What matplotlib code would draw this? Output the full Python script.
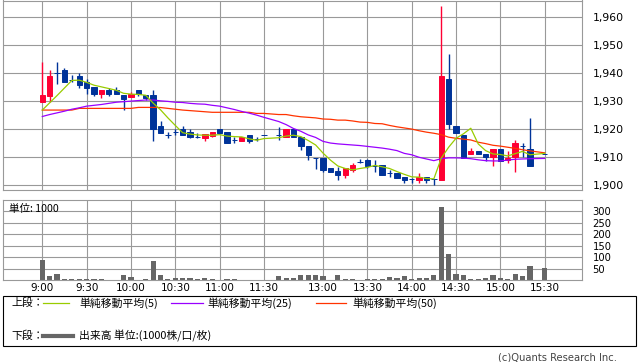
import matplotlib
matplotlib.use("Agg")
import matplotlib.pyplot as plt
from matplotlib.lines import Line2D
from matplotlib.patches import Rectangle
from matplotlib.ticker import FuncFormatter
import pandas as pd

plt.rcParams['font.family'] = ['DejaVu Sans', 'Noto Sans CJK JP']
CJK = ['Noto Sans CJK JP', 'DejaVu Sans']

# 5-minute bars: morning 9:00-11:30, afternoon 12:30-15:20, closing 15:30
am = pd.date_range("2024-01-01 09:00", "2024-01-01 11:30", freq="5min").strftime("%H:%M").tolist()
pm = pd.date_range("2024-01-01 12:30", "2024-01-01 15:20", freq="5min").strftime("%H:%M").tolist()
times = am + pm + ["15:30"]

opens = [1929.7, 1931.9, 1940.0, 1941.1, 1937.6, 1938.9, 1936.8, 1935.1, 1932.5, 1934.1,
         1933.9, 1932.1, 1931.5, 1934.1, 1932.1, 1932.1, 1921.1, 1918.0, 1919.0, 1919.9,
         1919.0, 1917.1, 1916.9, 1917.6, 1919.9, 1919.0, 1916.2, 1915.8, 1917.9, 1916.3,
         1917.9,
         1918.0, 1917.0, 1919.9, 1917.0, 1913.9, 1909.8, 1909.8, 1906.0, 1905.0, 1903.6,
         1905.5, 1908.1, 1909.0, 1906.8, 1907.1, 1904.3, 1904.2, 1902.8, 1902.1, 1901.8,
         1902.9, 1902.1, 1901.8, 1937.9, 1921.1, 1917.9, 1911.0, 1912.1, 1911.1, 1909.9,
         1912.9, 1908.9, 1909.9, 1913.9, 1912.9,
         1911.0]
highs = [1944.0, 1941.1, 1944.0, 1941.7, 1939.3, 1939.9, 1937.9, 1935.1, 1934.1, 1934.6,
         1934.9, 1932.1, 1933.3, 1934.1, 1932.1, 1933.9, 1923.0, 1918.9, 1920.2, 1921.0,
         1920.2, 1918.5, 1918.2, 1919.0, 1919.9, 1919.0, 1917.2, 1917.0, 1917.9, 1917.0,
         1917.9,
         1920.8, 1919.9, 1920.2, 1917.0, 1913.9, 1909.8, 1909.8, 1906.0, 1906.5, 1906.0,
         1908.0, 1909.2, 1909.2, 1909.0, 1907.1, 1905.4, 1904.2, 1902.8, 1902.4, 1904.2,
         1902.9, 1902.1, 1963.9, 1946.8, 1921.1, 1917.9, 1913.1, 1912.1, 1911.1, 1912.9,
         1912.9, 1912.1, 1916.1, 1915.1, 1924.0,
         1911.0]
lows = [1929.7, 1929.7, 1936.2, 1936.7, 1936.9, 1934.6, 1932.5, 1932.0, 1931.0, 1932.0,
        1932.5, 1927.0, 1931.5, 1932.0, 1930.4, 1915.8, 1918.7, 1916.9, 1917.9, 1917.9,
        1916.8, 1916.9, 1915.8, 1917.1, 1918.7, 1914.9, 1914.9, 1915.8, 1914.9, 1915.6,
        1917.9,
        1916.1, 1917.0, 1917.0, 1912.5, 1908.9, 1905.6, 1904.5, 1904.8, 1901.9, 1902.4,
        1904.5, 1907.8, 1906.0, 1904.8, 1903.6, 1902.9, 1902.6, 1900.8, 1900.7, 1900.8,
        1900.8, 1900.0, 1901.8, 1919.9, 1918.7, 1909.8, 1911.0, 1911.0, 1908.6, 1906.9,
        1908.6, 1907.7, 1904.8, 1909.9, 1906.9,
        1911.0]
closes = [1932.1, 1938.9, 1940.0, 1936.7, 1937.6, 1935.8, 1934.6, 1932.7, 1934.1, 1932.5,
          1932.5, 1930.7, 1932.5, 1932.5, 1931.0, 1919.9, 1918.7, 1918.0, 1919.0, 1917.9,
          1917.3, 1917.1, 1918.2, 1919.0, 1918.7, 1914.9, 1916.2, 1917.0, 1915.7, 1916.3,
          1917.9,
          1917.8, 1919.9, 1917.0, 1913.9, 1910.7, 1909.8, 1905.4, 1904.8, 1903.4, 1906.0,
          1907.2, 1908.1, 1906.8, 1906.8, 1903.6, 1904.3, 1902.6, 1901.8, 1902.1, 1903.0,
          1901.8, 1902.1, 1938.9, 1921.8, 1918.7, 1909.8, 1912.1, 1911.0, 1909.9, 1912.9,
          1908.6, 1909.8, 1914.9, 1913.9, 1906.9,
          1911.0]
volume = [89, 16, 28, 6, 6, 6, 5, 3, 5, 2,
          2, 21, 12, 2, 5, 85, 24, 6, 10, 10,
          10, 5, 10, 5, 2, 6, 6, 2, 2, 2,
          2,
          16, 8, 8, 21, 24, 24, 16, 2, 24, 6,
          5, 2, 6, 6, 6, 12, 8, 16, 3, 8,
          8, 24, 320, 115, 28, 20, 6, 6, 10, 20,
          10, 6, 27, 16, 60,
          54]

ma5 = [1926.8, 1929.4, 1932.0, 1934.7, 1937.4, 1937.5, 1936.7, 1935.7, 1935.1, 1934.5,
       1933.9, 1932.8, 1932.5, 1932.4, 1932.1, 1929.3, 1926.9, 1924.0, 1921.3, 1918.7,
       1918.2, 1917.9, 1917.8, 1917.8, 1918.0, 1917.5, 1917.3, 1917.2, 1916.5, 1916.0,
       1916.6,
       1916.9, 1917.5, 1917.8, 1917.3, 1915.9, 1914.3, 1911.4, 1908.9, 1906.8, 1905.9,
       1905.4, 1905.9, 1906.3, 1907.0, 1906.5, 1905.9, 1904.8, 1903.8, 1902.9, 1902.8,
       1902.3, 1902.2, 1909.6, 1913.5, 1916.7, 1918.3, 1920.3, 1914.7, 1912.3, 1911.1,
       1910.9, 1910.4, 1911.2, 1912.0, 1910.8,
       1911.3]
ma25 = [1924.5, 1925.2, 1925.8, 1926.4, 1927.1, 1927.6, 1928.2, 1928.5, 1928.8, 1929.2,
        1929.6, 1929.8, 1930.0, 1930.2, 1930.4, 1930.4, 1930.1, 1929.9, 1929.6, 1929.5,
        1929.2, 1929.0, 1928.9, 1928.5, 1928.2, 1927.6, 1927.0, 1926.3, 1925.7, 1925.0,
        1924.2,
        1922.7, 1921.6, 1920.2, 1919.2, 1917.9, 1917.0, 1915.6, 1915.0, 1914.7, 1914.5,
        1914.3, 1914.1, 1913.8, 1913.5, 1913.2, 1912.8, 1912.3, 1911.3, 1910.8, 1909.9,
        1909.3, 1908.7, 1909.4, 1909.7, 1909.7, 1909.6, 1909.4, 1909.0, 1908.7, 1908.6,
        1908.6, 1908.9, 1909.2, 1909.3, 1909.4,
        1909.5]
ma50 = [1926.8, 1926.8, 1926.8, 1926.8, 1926.8, 1927.4, 1927.4, 1927.4, 1927.4, 1927.4,
        1927.4, 1927.4, 1927.4, 1927.75, 1927.75, 1927.75, 1927.7, 1927.4, 1927.1, 1926.8,
        1926.6, 1926.4, 1926.2, 1926.0, 1926.0, 1926.0, 1926.0, 1926.0, 1926.0, 1925.6,
        1925.6,
        1925.2, 1925.2, 1924.75, 1924.4, 1924.2, 1924.0, 1923.6, 1923.5, 1923.2, 1923.2,
        1922.9, 1922.5, 1922.4, 1922.0, 1921.9, 1921.3, 1920.8, 1920.4, 1920.0, 1919.4,
        1918.9, 1918.5, 1918.0, 1917.1, 1916.7, 1916.4, 1916.1, 1915.3, 1914.8, 1914.2,
        1913.9, 1913.5, 1913.1, 1912.6, 1912.2,
        1911.5]

tick_labels = ["9:00", "9:30", "10:00", "10:30", "11:00", "11:30",
               "13:00", "13:30", "14:00", "14:30", "15:00", "15:30"]
price_ticks = [1900, 1910, 1920, 1930, 1940, 1950, 1960]
vol_ticks = [50, 100, 150, 200, 250, 300]

RED = '#ff0033'
BLUE = '#003399'
GRID = '#999999'


def slot(t):
    # position in 5-min slots from 9:00, lunch break squeezed to 2 slots
    h, m = map(int, t.split(":"))
    mins = h * 60 + m - 9 * 60
    if mins > 150:
        mins -= 50
    return mins / 5


W, H = 638, 362
fig = plt.figure(figsize=(W / 100, H / 100), dpi=100)
ax = fig.add_axes([3 / W, 1 - 190 / H, 579 / W, 189.5 / H])
axv = fig.add_axes([3 / W, 1 - 280 / H, 579 / W, 80 / H])

x = [slot(t) for t in times]
xt = [slot(t) for t in tick_labels]

for a in (ax, axv):
    a.set_xlim(-5.32, 73.05)
    a.set_xticks(xt)
    a.grid(True, color=GRID, lw=0.8)
    a.set_axisbelow(True)
    a.yaxis.tick_right()
    a.tick_params(length=0, labelsize=7.2, pad=7.5)
    for s in a.spines.values():
        s.set_color(GRID)
        s.set_linewidth(0.8)

# candles
for xi, o, h, l, c in zip(x, opens, highs, lows, closes):
    col = RED if c > o else BLUE
    ax.vlines(xi, l, h, color=col, lw=1.0)
    ax.bar(xi, abs(c - o), bottom=min(o, c), width=0.72, color=col,
           edgecolor=col, lw=0.7)

ax.plot(x, ma50, color='#ff3300', lw=0.9)
ax.plot(x, ma25, color='#9900ff', lw=0.9)
ax.plot(x, ma5, color='#99cc00', lw=0.9)

ax.set_ylim(1898.2, 1966)
ax.set_yticks(price_ticks)
ax.yaxis.set_major_formatter(FuncFormatter(lambda v, p: f"{v:,.0f}"))
ax.tick_params(axis='y', labelsize=7.8)
ax.set_xticklabels([])

axv.bar(x, volume, width=0.7, color='#666666')
axv.set_ylim(0, 350)
axv.set_yticks(vol_ticks)
axv.set_xticklabels(tick_labels)
axv.tick_params(axis='x', pad=2, labelsize=7.5)

fig.text(9 / W, 1 - 209 / H, "単位: 1000", family=CJK, fontsize=7.6, va='center')

# legend box
fig.add_artist(Rectangle((3 / W, 1 - 346 / H), 633 / W, 50 / H, transform=fig.transFigure,
                         fill=False, ec='black', lw=0.8))
y1 = 1 - 303 / H
y2 = 1 - 336 / H
fig.text(11 / W, y1, "上段：", family=CJK, fontsize=7.8, va='center')
fig.text(11 / W, y2, "下段：", family=CJK, fontsize=7.8, va='center')
items = [(43, 69, 79, '#99cc00', "単純移動平均(5)"),
         (171, 203, 207, '#9900ff', "単純移動平均(25)"),
         (316, 346, 352, '#ff3300', "単純移動平均(50)")]
for x0, x1, xtxt, col, label in items:
    fig.add_artist(Line2D([x0 / W, x1 / W], [y1, y1], color=col, lw=0.9,
                          transform=fig.transFigure))
    fig.text(xtxt / W, y1, label, family=CJK, fontsize=7.8, va='center')
fig.add_artist(Line2D([43 / W, 73 / W], [y2, y2], color='#666666', lw=3,
                      transform=fig.transFigure))
fig.text(79 / W, y2, "出来高 単位:(1000株/口/枚)", family=CJK, fontsize=7.8, va='center')

fig.text(617 / W, 1 - 357 / H, "(c)Quants Research Inc.", fontsize=7.2,
         color='#444444', ha='right', va='center')

fig.savefig("out.png", dpi=100)
